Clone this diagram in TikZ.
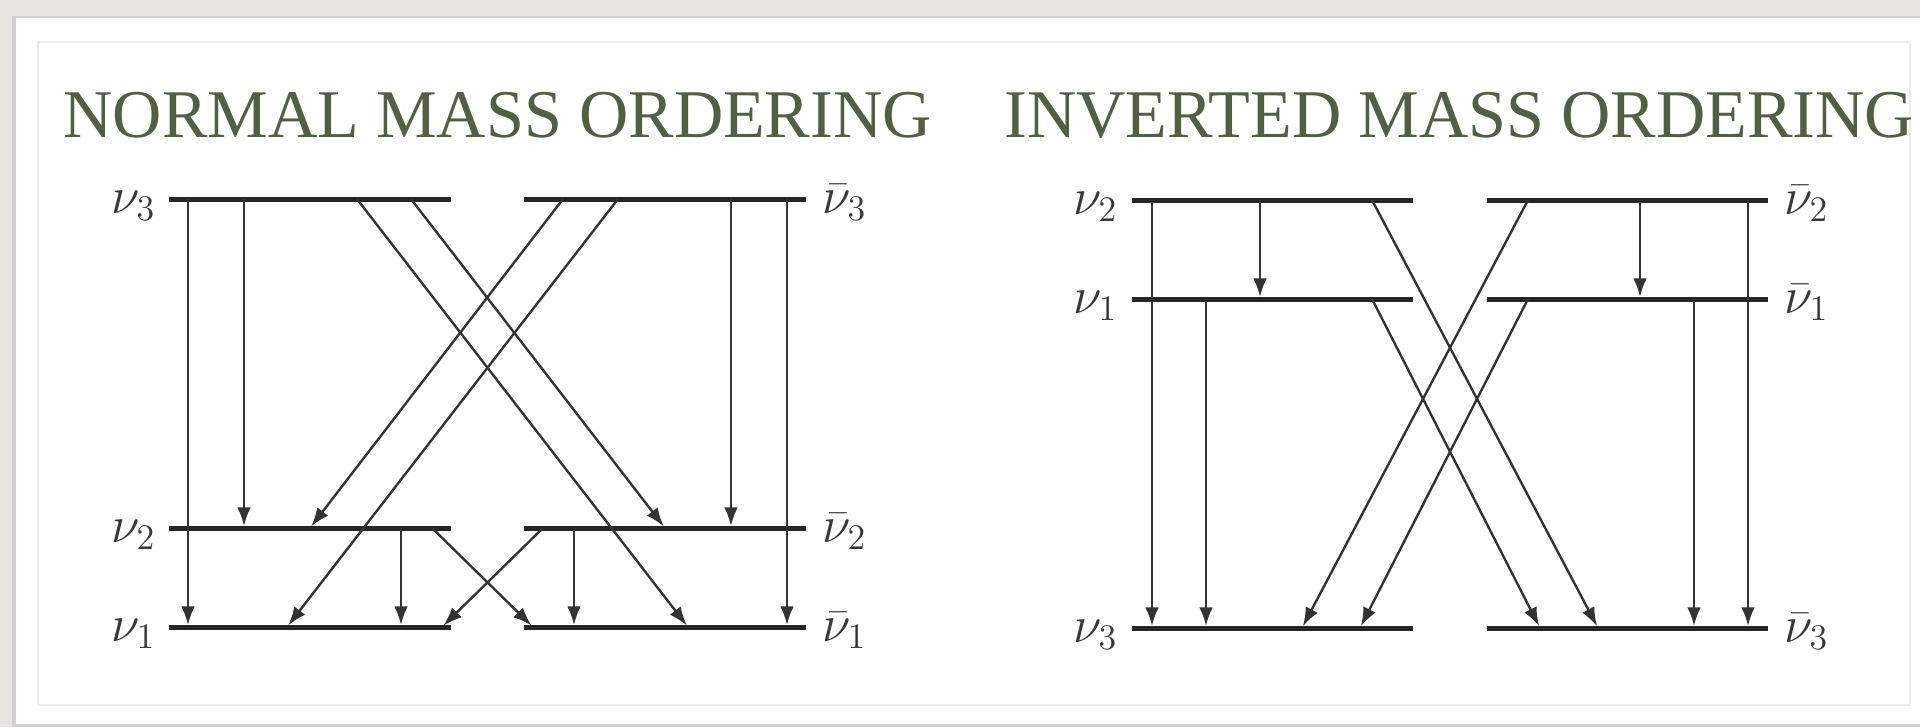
\documentclass[tikz,border=0pt]{standalone}
\usepackage{fontspec}
\setmainfont{Liberation Serif}
\usetikzlibrary{arrows.meta}
\definecolor{titlegreen}{RGB}{80,96,64}
\definecolor{bgpaper}{RGB}{229,228,222}
\definecolor{innerframe}{RGB}{236,236,236}
\tikzset{
  lvl/.style={line width=2pt, draw=black!85},
  trans/.style={line width=0.95pt, draw=black!80, shorten >=0.8pt, -{Latex[length=7.5pt,width=5.5pt]}},
  lab/.style={font=\fontsize{21}{21}\selectfont, text=black!78, inner sep=0pt},
  ttl/.style={font=\fontsize{27.3}{30}\selectfont, text=titlegreen, inner sep=0pt, anchor=base west}
}
\begin{document}
\begin{tikzpicture}[x=0.4pt,y=-0.4pt]
% background and panel
\fill[bgpaper] (0,0) rectangle (1920,727);
\fill[black!18] (12,16) rectangle (1920,727);
\fill[white] (16,18) rectangle (1920,724);
\draw[innerframe, line width=0.5pt] (38,42) rectangle (1910,705);
\useasboundingbox (0,0) rectangle (1920,727);
% titles
\node[ttl] (tn) at (63,137) {NORMAL MASS ORDERING};
\node[ttl] (ti) at (1004,137) {INVERTED MASS ORDERING};
% ---------------- normal ordering ----------------
% level ends
\coordinate (n3l) at (169,199); \coordinate (n3r) at (451,199);
\coordinate (n2l) at (169,528); \coordinate (n2r) at (451,528);
\coordinate (n1l) at (169,627); \coordinate (n1r) at (451,627);
\coordinate (b3l) at (524,199); \coordinate (b3r) at (806,199);
\coordinate (b2l) at (524,528); \coordinate (b2r) at (806,528);
\coordinate (b1l) at (524,627); \coordinate (b1r) at (806,627);
\foreach \a/\b in {n3l/n3r,n2l/n2r,n1l/n1r,b3l/b3r,b2l/b2r,b1l/b1r} \draw[lvl] (\a) -- (\b);
% labels
\node[lab, anchor=base east] (ln3) at (156,213) {$\nu_3$};
\node[lab, anchor=base east] (ln2) at (156,542) {$\nu_2$};
\node[lab, anchor=base east] (ln1) at (156,641) {$\nu_1$};
\node[lab, anchor=base west] (lb3) at (822,213) {$\bar\nu_3$};
\node[lab, anchor=base west] (lb2) at (822,542) {$\bar\nu_2$};
\node[lab, anchor=base west] (lb1) at (822,641) {$\bar\nu_1$};
% transition end points
\coordinate (p1s) at (188,199); \coordinate (p1e) at (188,627);
\coordinate (p2s) at (244,199); \coordinate (p2e) at (244,528);
\coordinate (p3s) at (357,199); \coordinate (p3e) at (688,627);
\coordinate (p4s) at (411,199); \coordinate (p4e) at (665,528);
\coordinate (p5s) at (563,199); \coordinate (p5e) at (310,528);
\coordinate (p6s) at (618,199); \coordinate (p6e) at (287,627);
\coordinate (p7s) at (731,199); \coordinate (p7e) at (731,528);
\coordinate (p8s) at (787,199); \coordinate (p8e) at (787,627);
\coordinate (p9s) at (401,528); \coordinate (p9e) at (401,627);
\coordinate (p10s) at (432,528); \coordinate (p10e) at (533,627);
\coordinate (p11s) at (543,528); \coordinate (p11e) at (442,627);
\coordinate (p12s) at (574,528); \coordinate (p12e) at (574,627);
\foreach \i in {1,...,12} \draw[trans] (p\i s) -- (p\i e);
% ---------------- inverted ordering ----------------
\coordinate (m2l) at (1132,200); \coordinate (m2r) at (1413,200);
\coordinate (m1l) at (1132,299); \coordinate (m1r) at (1413,299);
\coordinate (m3l) at (1132,628); \coordinate (m3r) at (1413,628);
\coordinate (c2l) at (1487,200); \coordinate (c2r) at (1768,200);
\coordinate (c1l) at (1487,299); \coordinate (c1r) at (1768,299);
\coordinate (c3l) at (1487,628); \coordinate (c3r) at (1768,628);
\foreach \a/\b in {m2l/m2r,m1l/m1r,m3l/m3r,c2l/c2r,c1l/c1r,c3l/c3r} \draw[lvl] (\a) -- (\b);
\node[lab, anchor=base east] (lm2) at (1118,214) {$\nu_2$};
\node[lab, anchor=base east] (lm1) at (1118,313) {$\nu_1$};
\node[lab, anchor=base east] (lm3) at (1118,642) {$\nu_3$};
\node[lab, anchor=base west] (lc2) at (1784,214) {$\bar\nu_2$};
\node[lab, anchor=base west] (lc1) at (1784,313) {$\bar\nu_1$};
\node[lab, anchor=base west] (lc3) at (1784,642) {$\bar\nu_3$};
\coordinate (q1s) at (1152,200); \coordinate (q1e) at (1152,628);
\coordinate (q2s) at (1260,200); \coordinate (q2e) at (1260,299);
\coordinate (q3s) at (1206,299); \coordinate (q3e) at (1206,628);
\coordinate (q4s) at (1372,200); \coordinate (q4e) at (1598,628);
\coordinate (q5s) at (1372,299); \coordinate (q5e) at (1540,628);
\coordinate (q6s) at (1528,200); \coordinate (q6e) at (1302,628);
\coordinate (q7s) at (1528,299); \coordinate (q7e) at (1360,628);
\coordinate (q8s) at (1640,200); \coordinate (q8e) at (1640,299);
\coordinate (q9s) at (1694,299); \coordinate (q9e) at (1694,628);
\coordinate (q10s) at (1748,200); \coordinate (q10e) at (1748,628);
\foreach \i in {1,...,10} \draw[trans] (q\i s) -- (q\i e);
\end{tikzpicture}
\end{document}
